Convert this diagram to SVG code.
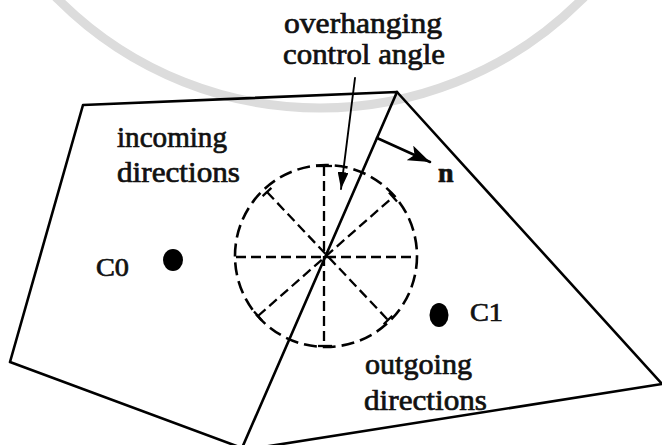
<svg xmlns="http://www.w3.org/2000/svg" width="662" height="445" viewBox="0 0 662 445">
  <style>
    .edge { fill: none; stroke: #000; stroke-width: 2.6; stroke-linejoin: round; stroke-linecap: round; }
    .ring { fill: none; stroke: #000; stroke-width: 2.6; stroke-dasharray: 13 6; }
    .ray { fill: none; stroke: #000; stroke-width: 2.3; stroke-dasharray: 10 5; }
    .tick { fill: none; stroke: #000; stroke-width: 2.3; }
    .lbl { font-family: "Liberation Serif", "Times New Roman", serif; font-size: 30px; fill: #111; stroke: #111; stroke-width: 0.7; }
    .wm { fill: none; stroke: #dcdcdc; stroke-width: 9; }
  </style>
  <defs>
    <marker id="headN" markerUnits="userSpaceOnUse" markerWidth="22" markerHeight="16" refX="22" refY="8" orient="auto">
      <path d="M0,0 L22,8 L0,16 L5,8 z" fill="#000"/>
    </marker>
    <marker id="headO" markerUnits="userSpaceOnUse" markerWidth="17" markerHeight="11" refX="17" refY="5.5" orient="auto">
      <path d="M0,0 L17,5.5 L0,11 z" fill="#000"/>
    </marker>
  </defs>
  <rect width="662" height="445" fill="#fff"/>

  <g id="watermark">
    <circle class="wm" cx="320" cy="-262" r="370"/>
  </g>

  <g id="cell-c0">
    <polygon class="edge" points="83,105 397,92 242,448 10,362"/>
  </g>
  <g id="cell-c1">
    <polyline class="edge" points="397,92 662,384 244,450"/>
  </g>

  <g id="direction-circle">
    <circle class="ring" cx="326" cy="256" r="91"/>
    <line class="ray" x1="236" y1="257" x2="417" y2="257"/>
    <line class="ray" x1="324" y1="166" x2="324" y2="346"/>
    <line class="ray" x1="267" y1="192" x2="388" y2="320"/>
    <line class="ray" x1="258" y1="316" x2="393" y2="197"/>
    <line class="tick" x1="316" y1="166" x2="332" y2="166"/>
    <line class="tick" x1="318" y1="346" x2="332" y2="346"/>
    <line class="tick" x1="262.6" y1="196.1" x2="271.4" y2="187.9"/>
    <line class="tick" x1="383.7" y1="324.2" x2="392.3" y2="315.8"/>
    <line class="tick" x1="389" y1="192.5" x2="397" y2="201.5"/>
    <line class="tick" x1="254" y1="311.5" x2="262" y2="320.5"/>
  </g>

  <g id="c0">
    <ellipse cx="173" cy="260" rx="10" ry="11" fill="#000"/>
    <text class="lbl" x="96" y="276" style="font-size:26px" textLength="33" lengthAdjust="spacingAndGlyphs">C0</text>
  </g>
  <g id="c1">
    <ellipse cx="439" cy="315" rx="9.5" ry="12" fill="#000"/>
    <text class="lbl" x="470" y="321" style="font-size:26px" textLength="33" lengthAdjust="spacingAndGlyphs">C1</text>
  </g>

  <g id="connectors">
    <line class="edge" x1="377" y1="138" x2="430" y2="162" marker-end="url(#headN)"/>
    <line class="edge" x1="355" y1="78" x2="341" y2="189" style="stroke-width:1.9" marker-end="url(#headO)"/>
  </g>

  <g id="labels">
    <text class="lbl" x="284" y="33" textLength="158" lengthAdjust="spacingAndGlyphs">overhanging</text>
    <text class="lbl" x="283" y="64" textLength="162" lengthAdjust="spacingAndGlyphs">control angle</text>
    <text class="lbl" x="117" y="147" textLength="110" lengthAdjust="spacingAndGlyphs">incoming</text>
    <text class="lbl" x="117" y="182" textLength="123" lengthAdjust="spacingAndGlyphs">directions</text>
    <text class="lbl" x="365" y="374" textLength="107" lengthAdjust="spacingAndGlyphs">outgoing</text>
    <text class="lbl" x="364" y="410" textLength="123" lengthAdjust="spacingAndGlyphs">directions</text>
    <text class="lbl" x="438" y="182" style="font-size:28px;font-weight:bold">n</text>
  </g>
</svg>
